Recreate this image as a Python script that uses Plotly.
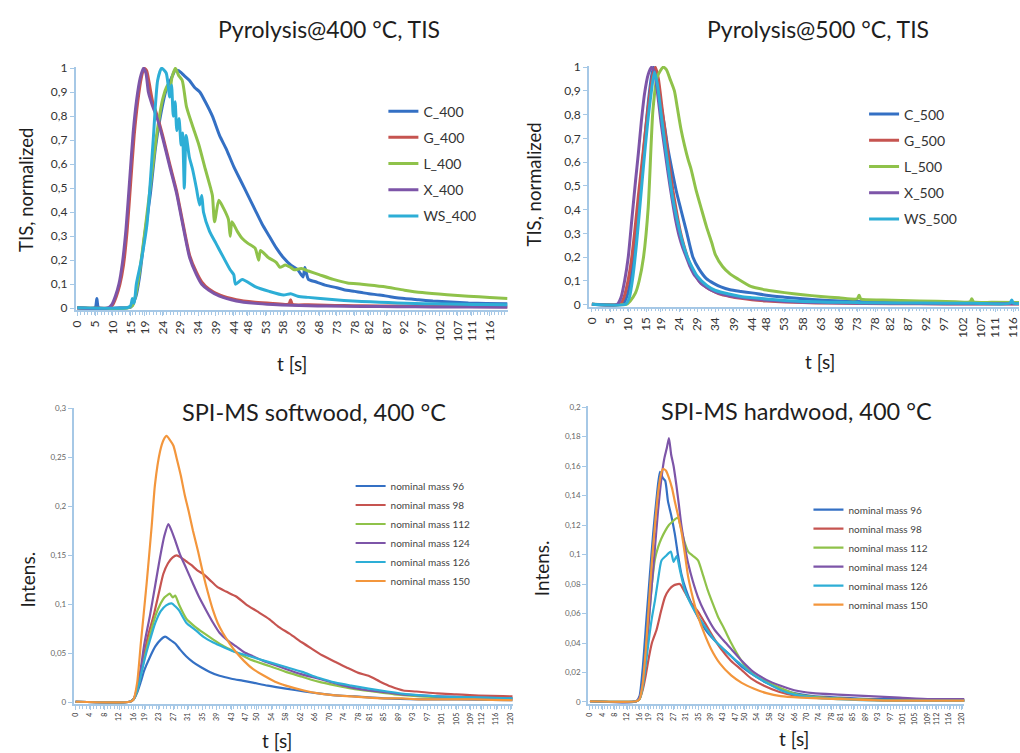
import plotly.graph_objects as go

W, H = 1020, 753

# ---------------- Pyrolysis @ 400 °C, TIS ----------------
c400_t = [0, 5, 5.5, 6, 12, 15, 16.5, 17.5, 19, 20.5, 22, 23.5, 25, 26.5, 27.5, 28.5, 30, 31.5, 33, 34.5, 36, 38, 40,
          42, 44, 46, 48, 50, 52, 54, 56, 58, 60, 62, 63.5, 64, 65, 67, 70, 73, 75, 78, 80, 82, 85, 88, 92, 96, 100,
          105, 110, 115, 121]
c400_v = [0.002, 0.002, 0.04, 0.002, 0.002, 0.004, 0.05, 0.13, 0.31, 0.47, 0.67, 0.81, 0.91, 0.96, 0.99, 0.99, 0.97,
          0.95, 0.92, 0.9, 0.86, 0.8, 0.72, 0.66, 0.59, 0.53, 0.47, 0.41, 0.35, 0.3, 0.25, 0.21, 0.18, 0.16, 0.13, 0.17,
          0.12, 0.11, 0.095, 0.085, 0.077, 0.07, 0.065, 0.06, 0.055, 0.048, 0.04, 0.035, 0.03, 0.026, 0.022, 0.02, 0.018]

g400_t = [0, 9, 10, 11, 12, 13, 14, 15, 16, 17, 18, 18.8, 19.5, 20.2, 21.2, 22.5, 24, 26, 27.9, 29.5, 31.6, 33.5, 35,
          37, 40, 44.7, 50, 55, 59.5, 60, 60.5, 65, 70, 75, 80, 90, 100, 110, 121]
g400_v = [0.002, 0.002, 0.015, 0.05, 0.1, 0.18, 0.32, 0.52, 0.72, 0.86, 0.96, 1.0, 0.99, 0.94, 0.86, 0.8, 0.72, 0.6,
          0.49, 0.37, 0.22, 0.15, 0.11, 0.08, 0.055, 0.035, 0.025, 0.02, 0.017, 0.035, 0.016, 0.014, 0.012, 0.011, 0.01,
          0.009, 0.008, 0.007, 0.006]

l400_t = [0, 14, 15.5, 16.5, 17.6, 19, 20.4, 22.3, 24, 25.4, 26, 26.6, 27.6, 28.5, 29.5, 30.7, 32.4, 34.2, 36, 37.5,
          38, 38.6, 39.8, 41, 42.5, 43, 43.5, 45, 46.4, 48, 50, 51, 51.5, 53.8, 55, 56, 57, 58.5, 60, 61, 63, 65, 68,
          72, 76, 80, 86, 92, 97, 104, 110, 116, 121]
l400_v = [0.001, 0.001, 0.01, 0.06, 0.16, 0.32, 0.49, 0.72, 0.87, 0.93, 0.9, 0.96, 1.0, 0.97, 0.95, 0.84, 0.76, 0.68,
          0.58, 0.5, 0.47, 0.36, 0.45, 0.42, 0.37, 0.3, 0.36, 0.32, 0.29, 0.27, 0.25, 0.2, 0.24, 0.21, 0.2, 0.19, 0.17,
          0.18, 0.17, 0.16, 0.165, 0.155, 0.14, 0.12, 0.105, 0.1, 0.09, 0.075, 0.065, 0.056, 0.05, 0.045, 0.04]

x400_t = [0, 8.7, 9.7, 10.7, 11.7, 12.7, 13.7, 14.7, 15.7, 16.7, 17.7, 18.6, 19.3, 20, 21, 22.5, 24, 26, 27.9, 29.5,
          31.6, 33.5, 35, 37, 40, 44.7, 50, 55, 60, 65, 70, 80, 90, 100, 110, 121]
x400_v = [0.001, 0.001, 0.015, 0.05, 0.1, 0.19, 0.33, 0.53, 0.73, 0.87, 0.96, 1.0, 0.98, 0.9, 0.85, 0.79, 0.71, 0.59,
          0.48, 0.36, 0.21, 0.14, 0.1, 0.075, 0.05, 0.03, 0.02, 0.015, 0.012, 0.01, 0.009, 0.007, 0.006, 0.005, 0.005,
          0.004]

ws400_t = [0, 14, 15, 15.5, 16, 16.6, 18, 19.6, 21.3, 22.6, 23.7, 25, 26, 26.5, 27, 27.5, 28, 28.6, 29.2, 29.6, 30.1,
           30.6, 31.5, 32.4, 33.5, 34.4, 35, 35.5, 37.2, 39, 40.8, 43, 44, 44.5, 46.4, 50, 54, 58, 60, 62, 65, 70, 75,
           80, 85, 90, 95, 100, 108, 115, 121]
ws400_v = [0.002, 0.002, 0.01, 0.04, 0.02, 0.1, 0.2, 0.35, 0.69, 0.95, 1.0, 0.98, 0.88, 0.93, 0.8, 0.86, 0.74, 0.79,
           0.68, 0.73, 0.5, 0.72, 0.63, 0.58, 0.5, 0.43, 0.47, 0.4, 0.32, 0.27, 0.22, 0.16, 0.14, 0.1, 0.12, 0.09, 0.07,
           0.055, 0.06, 0.05, 0.045, 0.038, 0.032, 0.028, 0.025, 0.022, 0.02, 0.018, 0.016, 0.015, 0.014]

# ---------------- Pyrolysis @ 500 °C, TIS ----------------
c500_t = [0, 8.5, 9.5, 10.5, 11.5, 12.5, 13.5, 14.5, 15.5, 16.5, 17, 17.8, 18.8, 20, 21, 22, 23.2, 24.5, 26, 27.8,
          29.5, 31.5, 33.5, 35.5, 38, 41, 44, 48, 53, 58, 65, 75, 90, 105, 118]
c500_v = [0.002, 0.002, 0.03, 0.09, 0.2, 0.35, 0.52, 0.69, 0.85, 0.97, 1.0, 0.96, 0.86, 0.75, 0.65, 0.57, 0.48, 0.4,
          0.31, 0.2, 0.15, 0.11, 0.09, 0.075, 0.063, 0.056, 0.05, 0.04, 0.032, 0.025, 0.018, 0.013, 0.009, 0.007, 0.006]

g500_t = [0, 7.8, 8.8, 9.8, 10.8, 11.8, 12.8, 13.8, 14.8, 15.8, 16.8, 17.5, 18.3, 19.3, 20.3, 21.3, 22.3, 23.3, 24.3,
          25.3, 26.3, 27.3, 28.3, 29.5, 31.4, 33, 35, 38, 41, 44, 48, 53, 58, 65, 75, 90, 105, 118]
g500_v = [0.002, 0.002, 0.03, 0.09, 0.18, 0.31, 0.46, 0.6, 0.74, 0.87, 0.97, 1.0, 0.95, 0.83, 0.71, 0.59, 0.48, 0.39,
          0.31, 0.25, 0.2, 0.16, 0.13, 0.1, 0.075, 0.06, 0.046, 0.035, 0.027, 0.021, 0.016, 0.012, 0.009, 0.007, 0.005,
          0.004, 0.003, 0.003]

l500_t = [0, 9.5, 10.5, 12, 13, 14.2, 15.5, 16.8, 18, 19.6, 20.5, 21.5, 22.7, 23.5, 24.5, 25.5, 26.5, 27.3, 28.7, 30,
          31.5, 33, 34, 36, 38, 40, 43.7, 48, 53, 58, 63, 68, 73, 73.5, 74, 80, 90, 100, 104, 104.5, 105, 110, 118]
l500_v = [0.002, 0.002, 0.015, 0.05, 0.1, 0.2, 0.41, 0.82, 0.96, 1.0, 0.99, 0.95, 0.9, 0.83, 0.74, 0.67, 0.61, 0.57,
          0.48, 0.41, 0.33, 0.26, 0.21, 0.16, 0.13, 0.11, 0.077, 0.062, 0.051, 0.042, 0.035, 0.029, 0.025, 0.04, 0.024,
          0.02, 0.016, 0.013, 0.012, 0.025, 0.012, 0.01, 0.009]

x500_t = [0, 7, 8, 9, 10, 11, 12, 12.8, 13.6, 14.5, 15.5, 16.4, 17.2, 18, 19, 20, 21, 22, 23, 24, 25, 26, 27, 28, 29,
          30, 31.4, 33, 35, 38, 41, 44, 48, 53, 58, 65, 75, 90, 105, 118]
x500_v = [0.002, 0.002, 0.03, 0.1, 0.2, 0.36, 0.52, 0.64, 0.77, 0.89, 0.97, 1.0, 0.98, 0.9, 0.77, 0.66, 0.55, 0.45,
          0.36, 0.29, 0.24, 0.2, 0.16, 0.13, 0.11, 0.09, 0.075, 0.06, 0.048, 0.037, 0.03, 0.025, 0.019, 0.014, 0.011,
          0.008, 0.006, 0.005, 0.004, 0.004]

ws500_t = [0, 9.3, 10.3, 11.3, 12.3, 13.3, 14.3, 15.3, 16.3, 17.2, 18, 19, 20, 21, 22, 23, 24, 25, 26.3, 27.5, 29,
           31.7, 34, 38, 41, 44, 48, 53, 58, 65, 73, 75, 90, 105, 115, 115.5, 116, 118]
ws500_v = [0.002, 0.002, 0.03, 0.12, 0.26, 0.43, 0.6, 0.76, 0.89, 0.98, 0.93, 0.81, 0.69, 0.58, 0.47, 0.39, 0.32,
           0.26, 0.2, 0.16, 0.12, 0.08, 0.06, 0.044, 0.035, 0.03, 0.024, 0.018, 0.014, 0.011, 0.009, 0.008, 0.007,
           0.006, 0.006, 0.02, 0.006, 0.006]

# ---------------- SPI-MS softwood, 400 °C ----------------
sw96_t = [0, 15, 16, 17, 18, 19, 20.5, 22, 23.5, 24.7, 26, 27.5, 28.8, 30.5, 32.4, 34.5, 37, 39.7, 43, 46, 48.9, 53,
          58, 63, 67, 71.7, 77, 85, 95, 105, 121]
sw96_v = [0.0005, 0.0005, 0.003, 0.01, 0.021, 0.033, 0.046, 0.057, 0.064, 0.067, 0.064, 0.06, 0.054, 0.047, 0.041,
          0.036, 0.031, 0.027, 0.024, 0.022, 0.02, 0.017, 0.014, 0.011, 0.009, 0.007, 0.006, 0.004, 0.003, 0.003, 0.002]

sw98_t = [0, 15, 16, 17, 18, 19, 20, 21.5, 23, 24.2, 25.5, 26.8, 27.9, 29, 30.5, 32, 33.5, 35.2, 37, 39, 41.5, 44.3,
          47, 50, 53.4, 56, 59, 62.5, 65, 68, 71.7, 75, 78, 80.8, 84, 87, 90.4, 94, 99.7, 105, 110, 121]
sw98_v = [0.0005, 0.0005, 0.003, 0.012, 0.03, 0.05, 0.068, 0.088, 0.112, 0.131, 0.142, 0.148, 0.15, 0.148, 0.144,
          0.14, 0.135, 0.131, 0.125, 0.118, 0.113, 0.108, 0.1, 0.093, 0.085, 0.077, 0.07, 0.061, 0.055, 0.048, 0.041,
          0.035, 0.03, 0.027, 0.021, 0.016, 0.012, 0.011, 0.009, 0.008, 0.007, 0.006]

sw112_t = [0, 15, 16, 17, 18, 19, 20.5, 22, 23.5, 24.5, 25.5, 26, 26.8, 27.5, 28.5, 30.6, 33, 35.2, 38, 41, 44.3, 48,
           53.4, 58, 62.5, 67, 72, 76.3, 82, 88, 95, 105, 121]
sw112_v = [0.0005, 0.0005, 0.003, 0.012, 0.028, 0.045, 0.068, 0.088, 0.101, 0.107, 0.11, 0.111, 0.107, 0.109, 0.1,
           0.085, 0.077, 0.071, 0.064, 0.057, 0.051, 0.044, 0.037, 0.031, 0.026, 0.021, 0.017, 0.014, 0.011, 0.008,
           0.006, 0.005, 0.004]

sw124_t = [0, 15, 16, 17, 18, 19, 20.5, 22, 23.3, 24.5, 25.6, 26.5, 27.5, 28.8, 30.5, 32.4, 34, 36, 37.8, 39.7, 42,
           44.3, 46.5, 48.9, 52, 55, 58, 62, 67.1, 72, 76.3, 81, 86, 90, 95, 100, 110, 121]
sw124_v = [0.0005, 0.0005, 0.003, 0.015, 0.035, 0.06, 0.088, 0.12, 0.148, 0.17, 0.182, 0.175, 0.165, 0.151, 0.137,
           0.121, 0.108, 0.094, 0.082, 0.071, 0.063, 0.057, 0.051, 0.047, 0.042, 0.038, 0.034, 0.029, 0.024, 0.019,
           0.015, 0.012, 0.01, 0.008, 0.007, 0.006, 0.005, 0.004]

sw126_t = [0, 15, 16, 17, 18, 19, 20.5, 22, 23.5, 25, 26.5, 27.5, 28.5, 30.6, 33, 35.2, 38, 41, 44.3, 48, 53.4, 58,
           62.5, 67, 71.7, 76, 80.8, 86, 92, 100, 110, 121]
sw126_v = [0.0005, 0.0005, 0.003, 0.012, 0.027, 0.043, 0.063, 0.081, 0.093, 0.099, 0.101, 0.098, 0.094, 0.081, 0.074,
           0.067, 0.061, 0.056, 0.051, 0.047, 0.041, 0.036, 0.031, 0.025, 0.02, 0.017, 0.014, 0.011, 0.008, 0.006,
           0.005, 0.004]

sw150_t = [0, 15, 16, 17, 18, 19.6, 21, 21.9, 23.3, 24.3, 25.1, 26, 27, 27.9, 29, 30.1, 31.2, 32.4, 33.8, 35.2, 36.5,
           37.9, 39.2, 40.6, 42.5, 44.3, 46.5, 48.9, 52, 55, 58, 63, 67, 71.7, 76, 80, 85, 90, 95, 100, 110, 121]
sw150_v = [0.0005, 0.0005, 0.003, 0.02, 0.06, 0.121, 0.18, 0.222, 0.256, 0.268, 0.272, 0.268, 0.262, 0.249, 0.232,
           0.212, 0.195, 0.175, 0.154, 0.131, 0.112, 0.094, 0.081, 0.071, 0.06, 0.051, 0.042, 0.034, 0.027, 0.021,
           0.017, 0.012, 0.009, 0.007, 0.006, 0.005, 0.004, 0.004, 0.003, 0.003, 0.003, 0.002]

# ---------------- SPI-MS hardwood, 400 °C ----------------
hw96_t = [0, 15, 16, 17, 18.3, 19.3, 20.4, 21.5, 22.6, 23.5, 24.3, 25.2, 26.3, 27.4, 28.4, 29.5, 31, 32.7, 35, 38,
          41.5, 45.6, 49, 53, 57, 61.6, 66, 72, 80, 90, 105, 121]
hw96_v = [0.0005, 0.0005, 0.004, 0.022, 0.058, 0.085, 0.114, 0.138, 0.156, 0.152, 0.15, 0.136, 0.126, 0.114, 0.1,
          0.087, 0.076, 0.067, 0.057, 0.047, 0.039, 0.031, 0.024, 0.018, 0.013, 0.009, 0.006, 0.004, 0.003, 0.002,
          0.002, 0.001]

hw98_t = [0, 15, 16, 17, 18, 19, 20, 21.5, 23, 24.2, 25.5, 27, 29, 30.5, 32.7, 35, 37, 39.5, 42.3, 45.5, 48.8, 52,
          56.2, 61, 67, 75, 85, 100, 121]
hw98_v = [0.0005, 0.0005, 0.002, 0.008, 0.018, 0.03, 0.04, 0.049, 0.062, 0.071, 0.076, 0.079, 0.08, 0.075, 0.067,
          0.061, 0.054, 0.045, 0.036, 0.028, 0.022, 0.016, 0.011, 0.007, 0.004, 0.003, 0.002, 0.001, 0.001]

hw112_t = [0, 15, 16, 17, 18, 19, 20, 21, 22, 23.1, 24.3, 25.5, 26.5, 27.5, 28.4, 29.5, 30.6, 31.7, 33.3, 34.9, 36.5,
           38, 39.6, 41.3, 43.5, 45.6, 48, 50.9, 54, 57.3, 62, 67, 75, 85, 100, 121]
hw112_v = [0.0005, 0.0005, 0.002, 0.01, 0.03, 0.055, 0.08, 0.097, 0.105, 0.111, 0.116, 0.12, 0.122, 0.124, 0.125,
           0.117, 0.108, 0.102, 0.099, 0.096, 0.086, 0.076, 0.067, 0.058, 0.049, 0.04, 0.031, 0.022, 0.017, 0.0135,
           0.009, 0.005, 0.003, 0.002, 0.001, 0.001]

hw124_t = [0, 15, 16, 17, 18, 19, 20, 21, 22, 23.1, 24, 24.8, 25.5, 26.2, 27, 27.9, 28.7, 29.5, 30.5, 31.7, 33.2,
           34.9, 37, 40.2, 43, 45.6, 49, 53, 57, 61.6, 66, 72, 80, 90, 100, 110, 121]
hw124_v = [0.0005, 0.0005, 0.003, 0.012, 0.03, 0.055, 0.08, 0.105, 0.13, 0.152, 0.165, 0.172, 0.179, 0.168, 0.16,
           0.147, 0.134, 0.12, 0.107, 0.094, 0.082, 0.071, 0.061, 0.049, 0.042, 0.036, 0.028, 0.02, 0.015, 0.011,
           0.008, 0.006, 0.005, 0.004, 0.003, 0.002, 0.002]

hw126_t = [0, 15, 16, 17, 18, 19, 20, 21, 22, 23.1, 24.5, 26.1, 27, 28, 29, 30.6, 32.7, 34.9, 37.5, 40.2, 43, 45.6,
           49, 53, 57, 61.6, 66, 72, 80, 95, 121]
hw126_v = [0.0005, 0.0005, 0.002, 0.01, 0.025, 0.042, 0.057, 0.069, 0.083, 0.096, 0.099, 0.102, 0.095, 0.099, 0.09,
           0.076, 0.066, 0.058, 0.05, 0.042, 0.036, 0.031, 0.025, 0.018, 0.013, 0.008, 0.005, 0.003, 0.002, 0.001,
           0.001]

hw150_t = [0, 15, 16, 17, 18, 19, 20, 21, 22, 23, 23.6, 24.5, 25.5, 26.5, 27.4, 28.5, 29.5, 30.6, 31.7, 33.3, 34.9,
           37, 39.1, 42, 45.6, 49, 53, 57, 61.6, 68, 80, 95, 121]
hw150_v = [0.0005, 0.0005, 0.002, 0.012, 0.035, 0.065, 0.095, 0.12, 0.142, 0.155, 0.158, 0.157, 0.152, 0.145, 0.136,
           0.126, 0.116, 0.101, 0.085, 0.07, 0.058, 0.046, 0.036, 0.026, 0.018, 0.013, 0.009, 0.006, 0.004, 0.003,
           0.002, 0.001, 0.001]

# Category-style tick labels on the time axes
top_ticks = [0, 5, 10, 15, 19, 24, 29, 34, 39, 44, 48, 53, 58, 63, 68, 73, 78, 82, 87, 92, 97, 102, 107, 111, 116]
bottom_ticks = [0, 4, 8, 12, 16, 19, 23, 27, 31, 35, 39, 43, 47, 50, 54, 58, 62, 66, 70, 74, 78, 81, 85, 89, 93, 97,
                101, 105, 109, 112, 116, 120]

BLUE, RED, GREEN, PURPLE, CYAN, ORANGE = "#3470c4", "#c65450", "#8fc24a", "#7d55a8", "#2daed6", "#f3963c"
FONT = "Lato, 'Open Sans', sans-serif"
AXIS_COLOR = "#a6c8e6"

fig = go.Figure()

panels = [
    ("x", "y", "legend", 3.0, [
        ("C_400", c400_t, c400_v, BLUE), ("G_400", g400_t, g400_v, RED), ("L_400", l400_t, l400_v, GREEN),
        ("X_400", x400_t, x400_v, PURPLE), ("WS_400", ws400_t, ws400_v, CYAN)]),
    ("x2", "y2", "legend2", 3.0, [
        ("C_500", c500_t, c500_v, BLUE), ("G_500", g500_t, g500_v, RED), ("L_500", l500_t, l500_v, GREEN),
        ("X_500", x500_t, x500_v, PURPLE), ("WS_500", ws500_t, ws500_v, CYAN)]),
    ("x3", "y3", "legend3", 2.2, [
        ("nominal mass 96", sw96_t, sw96_v, BLUE), ("nominal mass 98", sw98_t, sw98_v, RED),
        ("nominal mass 112", sw112_t, sw112_v, GREEN), ("nominal mass 124", sw124_t, sw124_v, PURPLE),
        ("nominal mass 126", sw126_t, sw126_v, CYAN), ("nominal mass 150", sw150_t, sw150_v, ORANGE)]),
    ("x4", "y4", "legend4", 2.2, [
        ("nominal mass 96", hw96_t, hw96_v, BLUE), ("nominal mass 98", hw98_t, hw98_v, RED),
        ("nominal mass 112", hw112_t, hw112_v, GREEN), ("nominal mass 124", hw124_t, hw124_v, PURPLE),
        ("nominal mass 126", hw126_t, hw126_v, CYAN), ("nominal mass 150", hw150_t, hw150_v, ORANGE)]),
]

for xa, ya, leg, lw, series in panels:
    for i, (name, t, v, col) in enumerate(series):
        fig.add_trace(go.Scatter(
            x=t, y=v, name=name, mode="lines", xaxis=xa, yaxis=ya, legend=leg,
            legendgroup=f"{leg}_{i}",
            line=dict(color=col, width=lw, shape="spline", smoothing=0.6),
        ))


def px_x(p):
    return p / W


def px_y(p):
    return 1 - p / H


def x_axis(dom, rng, ticks, size, anchor):
    return dict(
        domain=[px_x(dom[0]), px_x(dom[1])], range=rng, anchor=anchor,
        tickmode="array", tickvals=ticks, ticktext=[str(v) for v in ticks],
        tickangle=-90, tickfont=dict(family=FONT, size=size, color="#333"),
        ticklabeloverflow="allow",
        showline=True, linecolor=AXIS_COLOR, linewidth=1.5, ticks="outside", ticklen=4,
        tickcolor=AXIS_COLOR, showgrid=False, zeroline=False,
        minor=dict(dtick=0.97, tick0=0, ticks="outside", ticklen=3, tickcolor=AXIS_COLOR, showgrid=False),
    )


def y_axis(dom, rng, dtick, size, color, anchor):
    return dict(
        domain=[px_y(dom[1]), px_y(dom[0])], range=rng, anchor=anchor,
        tick0=0, dtick=dtick, tickfont=dict(family=FONT, size=size, color=color),
        showline=True, linecolor=AXIS_COLOR, linewidth=1.5, ticks="outside", ticklen=4,
        tickcolor=AXIS_COLOR, showgrid=False, zeroline=False,
    )


fig.update_layout(
    width=W, height=H, margin=dict(l=0, r=0, t=0, b=0),
    paper_bgcolor="white", plot_bgcolor="white",
    separators=",.",
    font=dict(family=FONT, color="#222"),
    xaxis=x_axis((70, 505), [-0.5, 121], top_ticks, 12, "y"),
    yaxis=y_axis((61, 308), [-0.008, 1.005], 0.1, 12, "#333", "x"),
    xaxis2=x_axis((587, 1020), [-0.8, 117.5], top_ticks, 12, "y2"),
    yaxis2=y_axis((60, 304.5), [-0.008, 1.005], 0.1, 12, "#333", "x2"),
    xaxis3=x_axis((68, 510), [-0.55, 120.5], bottom_ticks, 7, "y3"),
    yaxis3=y_axis((407, 708.5), [-0.002, 0.301], 0.05, 8, "#666", "x3"),
    xaxis4=x_axis((586, 965), [-0.64, 120.9], bottom_ticks, 7, "y4"),
    yaxis4=y_axis((405, 708.5), [-0.0015, 0.201], 0.02, 8, "#666", "x4"),
)

legend_common = dict(bgcolor="rgba(0,0,0,0)", borderwidth=0, traceorder="grouped",
                     xanchor="left", yanchor="top", itemclick=False)
fig.update_layout(
    legend=dict(x=px_x(380), y=px_y(90), font=dict(family=FONT, size=14, color="#333"),
                tracegroupgap=5, **legend_common),
    legend2=dict(x=px_x(864), y=px_y(93), font=dict(family=FONT, size=14, color="#333"),
                 tracegroupgap=5, **legend_common),
    legend3=dict(x=px_x(347), y=px_y(472), font=dict(family=FONT, size=10, color="#444"),
                 tracegroupgap=0, itemwidth=30, **legend_common),
    legend4=dict(x=px_x(808), y=px_y(496), font=dict(family=FONT, size=10, color="#444"),
                 tracegroupgap=0, itemwidth=30, **legend_common),
)

# Chart titles and axis titles
texts = [
    ("Pyrolysis@400 °C, TIS", 325, 22, 23, 0),
    ("Pyrolysis@500 °C, TIS", 818, 22, 23, 0),
    ("SPI-MS softwood, 400 °C", 310, 412, 23.5, 0),
    ("SPI-MS hardwood, 400 °C", 796, 411, 23.5, 0),
    ("TIS, normalized", 20, 186, 18.5, -90),
    ("TIS, normalized", 532, 180, 18.5, -90),
    ("Intens.", 22, 582, 19, -90),
    ("Intens.", 540, 570, 19, -90),
    ("t [s]", 288, 362, 19, 0),
    ("t [s]", 820, 360, 19, 0),
    ("t [s]", 273, 745, 19, 0),
    ("t [s]", 793, 743, 19, 0),
]
for txt, cx, cy, size, ang in texts:
    fig.add_annotation(text=txt, x=px_x(cx), y=px_y(cy), xref="paper", yref="paper",
                       xanchor="center", yanchor="middle", showarrow=False, textangle=ang,
                       font=dict(family=FONT, size=size, color="#1e1e1e"))

fig.write_html("out.html")
